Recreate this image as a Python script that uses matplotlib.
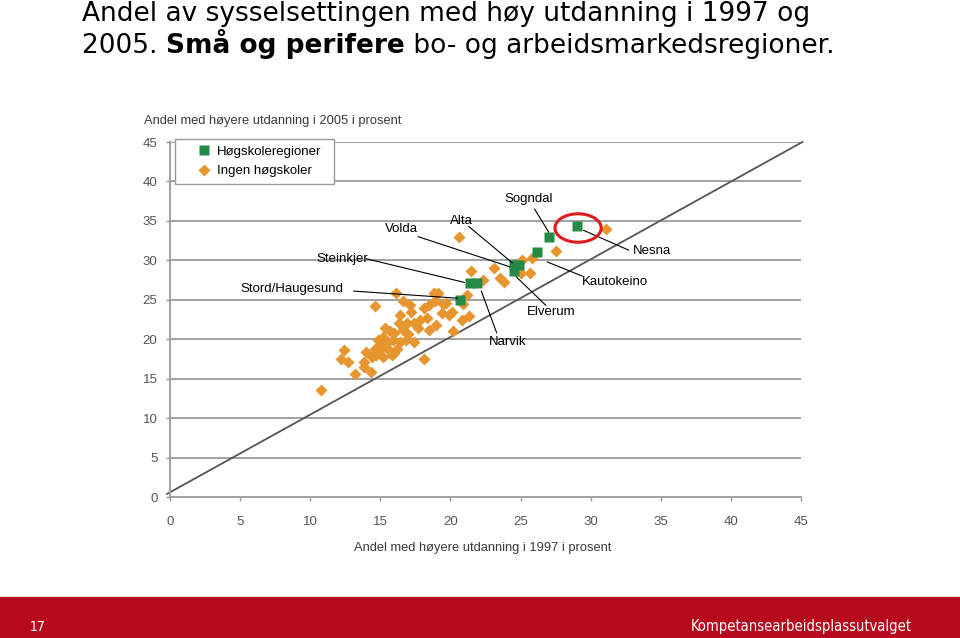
import numpy as np
import matplotlib.pyplot as plt
from matplotlib.patches import Ellipse, Rectangle

# Høgskoleregioner (green squares), x = 1997, y = 2005
names = ['Nesna', 'Sogndal', 'Kautokeino', 'Alta', 'Volda', 'Elverum',
         'Steinkjer', 'Narvik', 'Stord/Haugesund']
hs_1997 = [29.0, 27.0, 26.2, 24.5, 24.9, 24.5, 21.4, 21.9, 20.7]
hs_2005 = [34.4, 33.0, 31.1, 29.4, 29.4, 28.6, 27.1, 27.1, 25.0]

# Ingen høgskoler (orange diamonds)
ih_1997 = [10.8, 12.4, 12.2, 12.7, 13.2, 13.8, 14.3, 14.6, 16.1, 18.1,
           19.1, 20.2, 20.8, 21.3, 16.4, 17.2, 18.1, 18.5, 18.9, 19.5,
           19.9, 19.4, 19.0, 18.5, 17.8, 17.4, 16.9, 16.3, 16.6, 17.7,
           15.3, 15.2, 15.5, 15.9, 16.4, 16.8, 17.4, 15.0, 15.6, 16.2,
           14.7, 15.2, 15.8, 14.4, 13.8, 19.7, 20.6, 21.5, 22.3, 23.1,
           23.5, 23.8, 25.1, 25.0, 25.8, 25.7, 27.5, 31.1, 20.9, 21.2,
           20.1, 18.3, 17.1, 16.0, 14.8, 14.0, 18.8, 17.0, 15.7, 16.6,
           15.0, 15.4, 16.0, 14.6]
ih_2005 = [13.6, 18.6, 17.5, 17.1, 15.6, 16.5, 15.9, 24.2, 25.8, 17.5,
           25.9, 21.1, 22.4, 22.9, 23.1, 23.5, 23.9, 24.3, 24.8, 24.5,
           23.1, 23.3, 21.8, 21.2, 22.4, 22.0, 22.0, 22.0, 21.2, 21.4,
           21.4, 20.3, 19.5, 19.9, 19.7, 19.9, 19.7, 18.8, 18.6, 18.8,
           18.0, 17.8, 18.0, 17.8, 17.1, 24.6, 32.9, 28.6, 27.5, 29.0,
           27.7, 27.3, 30.0, 28.4, 30.3, 28.4, 31.2, 34.0, 24.5, 25.6,
           23.5, 22.7, 24.3, 20.8, 19.9, 18.4, 25.8, 20.6, 21.0, 24.8,
           19.3, 19.0, 18.3, 18.8]

ticks = [0, 5, 10, 15, 20, 25, 30, 35, 40, 45]

# label text position and leader line (text end, point end)
label_layout = {
    'Sogndal': ((25.6, 37.8), (26.0, 36.5), (27.0, 33.6)),
    'Alta': ((20.8, 35.0), (21.3, 34.3), (24.4, 29.7)),
    'Volda': ((16.5, 34.0), (17.7, 33.0), (24.2, 29.2)),
    'Steinkjer': ((12.3, 30.2), (14.0, 30.2), (21.0, 27.2)),
    'Stord/Haugesund': ((8.7, 26.4), (13.1, 26.1), (20.5, 25.2)),
    'Nesna': ((34.4, 31.2), (29.5, 33.8), (32.7, 31.3)),
    'Kautokeino': ((31.7, 27.2), (26.9, 29.8), (29.4, 28.0)),
    'Elverum': ((27.2, 23.4), (24.7, 27.9), (26.8, 24.3)),
    'Narvik': ((24.1, 19.6), (22.2, 26.1), (23.3, 20.8)),
}

green = '#268a47'
orange = '#e6952f'
grey = '#9a9a9a'
txtgrey = '#555555'
chart_font = ['Liberation Sans', 'DejaVu Sans']

fig = plt.figure(figsize=(9.6, 6.38), dpi=100)
ax = fig.add_axes([170 / 960, 1 - 497 / 638, 631 / 960, 355 / 638])

ax.set_xlim(0, 45)
ax.set_ylim(0, 45)
for t in ticks[1:]:
    ax.axhline(t, color=grey, lw=1.3, zorder=0)
for s in ['top', 'right']:
    ax.spines[s].set_visible(False)
for s in ['left', 'bottom']:
    ax.spines[s].set_color(grey)
    ax.spines[s].set_linewidth(1.3)
ax.set_xticks(ticks)
ax.set_yticks(ticks)
ax.tick_params(colors=grey, length=3, width=1, labelcolor=txtgrey, labelsize=9.5)
ax.tick_params(axis='x', pad=11)
ax.tick_params(axis='y', pad=6)
for lab in ax.get_xticklabels() + ax.get_yticklabels():
    lab.set_family(chart_font)

# diagonal reference line
ax.plot([-0.2, 45.1], [0.4, 45.0], color='#555555', lw=1.3, clip_on=False, zorder=1)

ax.plot(ih_1997, ih_2005, 'D', color=orange, markersize=5.8, mec='none', zorder=2,
        label='Ingen høgskoler')
ax.plot(hs_1997, hs_2005, 's', color=green, markersize=7.2, mec='none', zorder=3,
        label='Høgskoleregioner')

for name in names:
    (tx, ty), (x0, y0), (x1, y1) = label_layout[name]
    ax.plot([x0, x1], [y0, y1], color='black', lw=0.8, zorder=4)
    ax.text(tx, ty, name, ha='center', va='center', fontsize=9.5, family=chart_font, zorder=5)

ax.add_patch(Ellipse((29.1, 34.1), 3.3, 3.6, fill=False, ec='#e01b1b', lw=2.2, zorder=5))

handles, labels = ax.get_legend_handles_labels()
leg = fig.legend(handles[::-1], labels[::-1], loc='upper left', mode='expand',
                 bbox_to_anchor=(175 / 960, 1 - 180 / 638, 159 / 960, 41 / 638),
                 borderaxespad=0, fancybox=False, edgecolor=grey, framealpha=1,
                 prop={'family': chart_font, 'size': 9.5},
                 handletextpad=-0.7, borderpad=0.5, labelspacing=0.55,
                 handlelength=3.4)
leg.get_frame().set_linewidth(1.0)

fig.text(144 / 960, 1 - 121 / 638, 'Andel med høyere utdanning i 2005 i prosent',
         ha='left', va='center', fontsize=9.3, color='#3a3a3a', family=chart_font)
fig.text(483 / 960, 1 - 548 / 638, 'Andel med høyere utdanning i 1997 i prosent',
         ha='center', va='center', fontsize=9.3, color='#3a3a3a', family=chart_font)

# title, second line built from a regular and a bold piece
tfont = dict(family='DejaVu Sans', fontsize=19, color='black', va='baseline')
fig.text(82 / 960, 1 - 21 / 638, 'Andel av sysselsettingen med høy utdanning i 1997 og',
         ha='left', **tfont)
y2 = 1 - 53 / 638
t1 = fig.text(82 / 960, y2, '2005. ', ha='left', **tfont)
t2 = fig.text(0, y2, 'Små og perifere', fontweight='bold', **tfont)
t3 = fig.text(0, y2, ' bo- og arbeidsmarkedsregioner.', **tfont)
fig.canvas.draw()
r = fig.canvas.get_renderer()
inv = fig.transFigure.inverted()
t2.set_x(inv.transform((t1.get_window_extent(r).x1, 0))[0])
fig.canvas.draw()
t3.set_x(inv.transform((t2.get_window_extent(r).x1, 0))[0])

# footer band
fig.patches.append(Rectangle((0, 0), 1, 41 / 638, transform=fig.transFigure,
                             color='#b8081e', zorder=0))
fig.text(38 / 960, 1 - 627 / 638, '17', ha='center', va='center', color='white',
         fontsize=10, family='DejaVu Sans', fontstretch='condensed')
fig.text(912 / 960, 1 - 627 / 638, 'Kompetansearbeidsplassutvalget', ha='right',
         va='center', color='white', fontsize=10.5, family='DejaVu Sans',
         fontstretch='condensed')

fig.savefig('out.png', dpi=100)
